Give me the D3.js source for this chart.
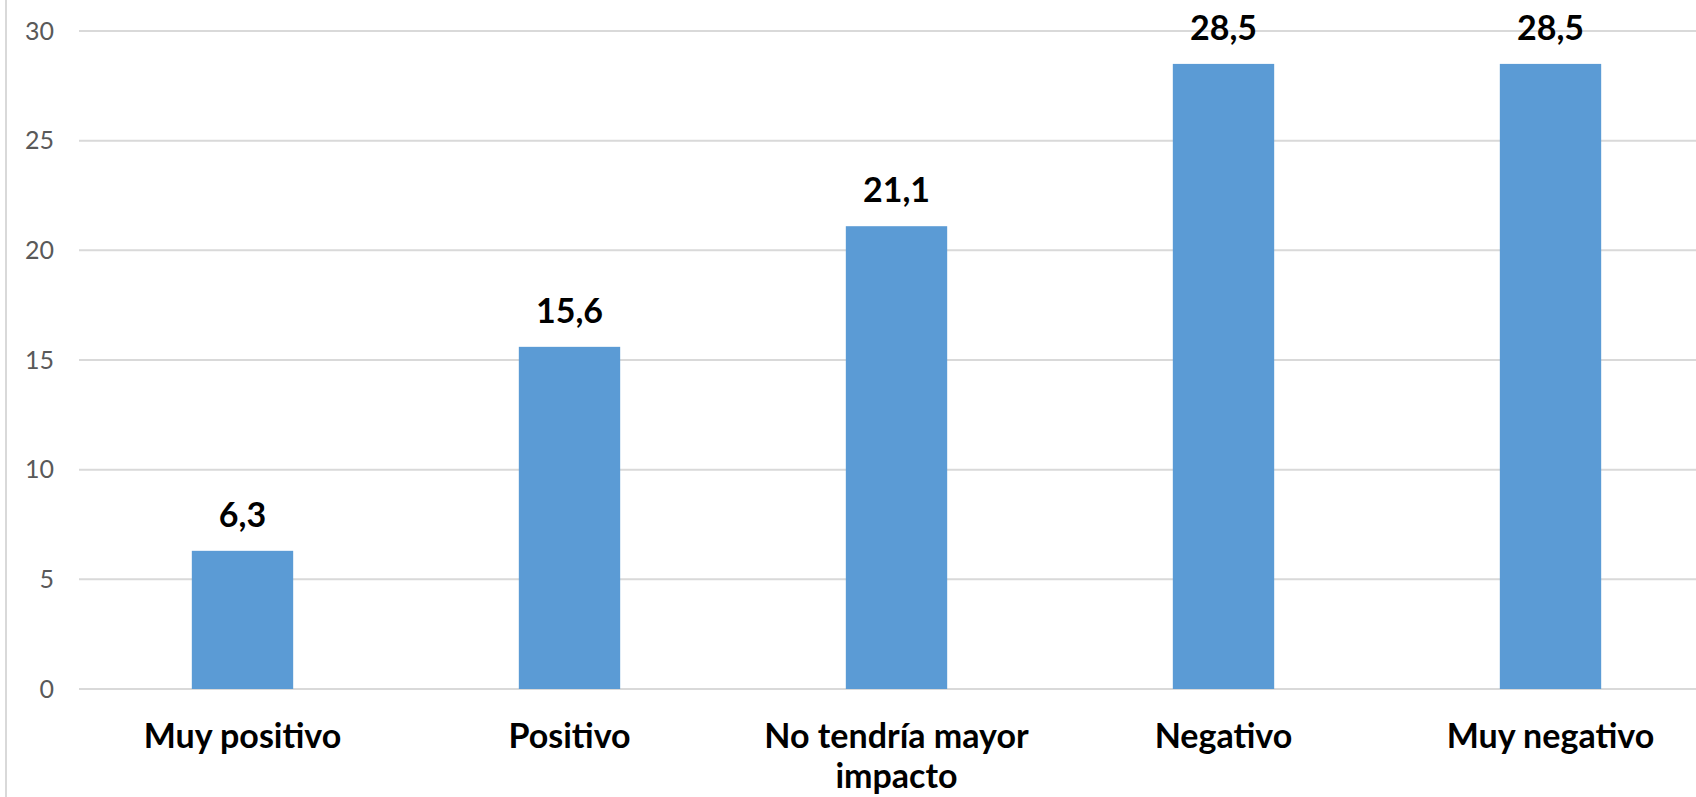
<!DOCTYPE html>
<html>
<head>
<meta charset="utf-8">
<script src="https://cdn.jsdelivr.net/npm/d3@7"></script>
<style>
  body { margin: 0; background: #fff; }
  svg { display: block; }
</style>
</head>
<body>
<div id="chartDiv"></div>
<script>
// data
var categories = ["Muy positivo", "Positivo", "No tendría mayor impacto", "Negativo", "Muy negativo"];
var values = [6.3, 15.6, 21.1, 28.5, 28.5];
var yTicks = [0, 5, 10, 15, 20, 25, 30];

// category labels are wrapped like in the original
var labelLines = {
    "No tendría mayor impacto": ["No tendría mayor", "impacto"]
};

var outerWidth = 1696, outerHeight = 797;
var margin = {top: 31, left: 79, bottom: 108};
var plotHeight = outerHeight - margin.top - margin.bottom;

var svg = d3.select("#chartDiv")
    .append("svg")
    .attr("width", outerWidth)
    .attr("height", outerHeight);

// left edge of the chart frame
svg.append("line")
    .attr("x1", 6).attr("x2", 6)
    .attr("y1", 0).attr("y2", outerHeight)
    .style("stroke", "#d9d9d9")
    .style("stroke-width", 2);

var g = svg.append("g")
    .attr("transform", "translate(" + margin.left + "," + margin.top + ")");

// plot area runs a bit past the right edge (picture is cropped)
var x = d3.scaleBand()
    .domain(categories)
    .range([0, 1635])
    .paddingInner(0.69)
    .paddingOuter(0.345);

var y = d3.scaleLinear()
    .domain([0, 30])
    .range([plotHeight, 0]);

// gridlines
g.selectAll(".grid")
    .data(yTicks)
    .enter().append("line")
    .attr("class", "grid")
    .attr("x1", 0)
    .attr("x2", outerWidth)
    .attr("y1", function(d) { return y(d); })
    .attr("y2", function(d) { return y(d); })
    .style("stroke", "#d9d9d9")
    .style("stroke-width", 2);

// y axis labels
var yAxis = d3.axisLeft(y)
    .tickValues(yTicks)
    .tickSize(0)
    .tickPadding(25);

var yAxisGroup = g.append("g")
    .attr("class", "y-axis")
    .call(yAxis);
yAxisGroup.select(".domain").remove();
yAxisGroup.selectAll("text")
    .style("font-family", "Lato, 'Open Sans', sans-serif")
    .style("font-size", "25px")
    .style("fill", "#595959");

// bars
g.selectAll(".bar")
    .data(values)
    .enter().append("rect")
    .attr("class", "bar")
    .attr("x", function(d, i) { return x(categories[i]); })
    .attr("width", x.bandwidth())
    .attr("y", function(d) { return y(d); })
    .attr("height", function(d) { return y(0) - y(d); })
    .style("fill", "#5b9bd5");

// value labels
var fmt = function(v) { return d3.format(".1f")(v).replace(".", ","); };
g.selectAll(".valueLabel")
    .data(values)
    .enter().append("text")
    .attr("class", "valueLabel")
    .attr("x", function(d, i) { return x(categories[i]) + x.bandwidth() / 2; })
    .attr("y", function(d) { return y(d) - 24; })
    .attr("text-anchor", "middle")
    .style("font-family", "Lato, 'Open Sans', sans-serif")
    .style("font-weight", "bold")
    .style("font-size", "34px")
    .style("fill", "#000")
    .text(fmt);

// category labels
var catGroup = g.selectAll(".catLabel")
    .data(categories)
    .enter().append("text")
    .attr("class", "catLabel")
    .attr("x", function(d) { return x(d) + x.bandwidth() / 2; })
    .attr("y", plotHeight + 59)
    .attr("text-anchor", "middle")
    .style("font-family", "Lato, 'Open Sans', sans-serif")
    .style("font-weight", "bold")
    .style("font-size", "34px")
    .style("fill", "#000");

catGroup.each(function(d) {
    var lines = labelLines[d] || [d];
    var t = d3.select(this);
    var cx = t.attr("x");
    lines.forEach(function(l, k) {
        t.append("tspan")
            .attr("x", cx)
            .attr("dy", k === 0 ? 0 : 40)
            .text(l);
    });
});
</script>
</body>
</html>
